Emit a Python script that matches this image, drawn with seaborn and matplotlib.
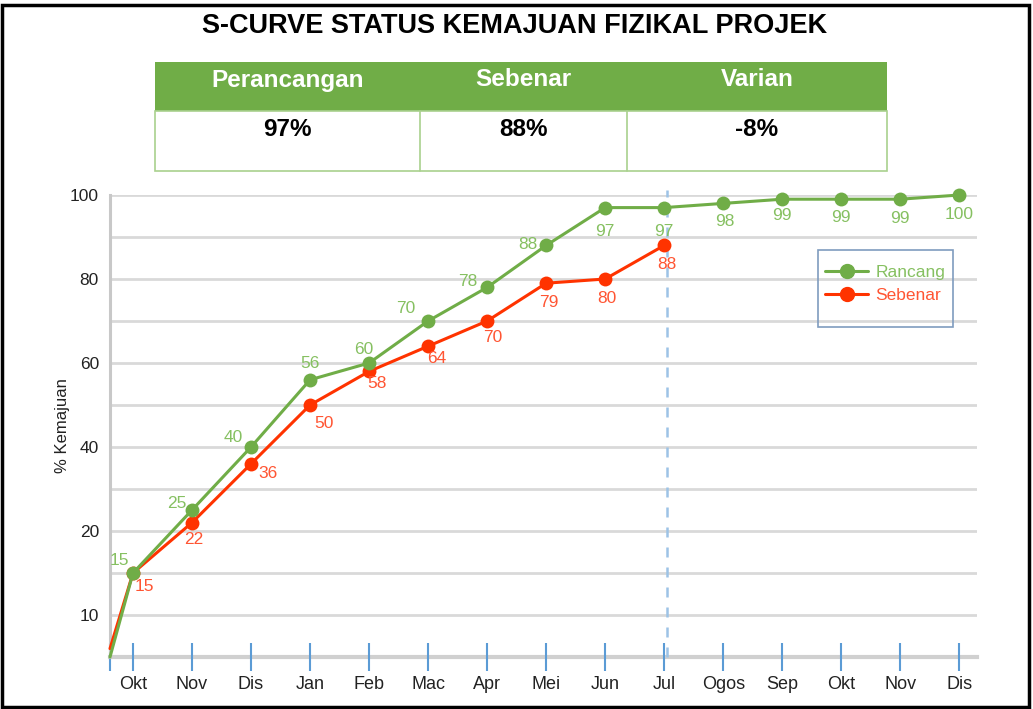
import numpy as np
import pandas as pd
import matplotlib
matplotlib.use("Agg")
import matplotlib.pyplot as plt
from matplotlib.patches import Rectangle
from matplotlib.lines import Line2D
import seaborn as sns

# ---------------- data ----------------
months = ["Okt", "Nov", "Dis", "Jan", "Feb", "Mac", "Apr", "Mei", "Jun", "Jul",
          "Ogos", "Sep", "Okt", "Nov", "Dis"]
rancang = [15, 25, 40, 56, 60, 70, 78, 88, 97, 97, 98, 99, 99, 99, 100]
sebenar = [15, 22, 36, 50, 58, 64, 70, 79, 80, 88]
start_rancang = 5
start_sebenar = 6
summary_headers = ["Perancangan", "Sebenar", "Varian"]
summary_values = ["97%", "88%", "-8%"]
ytick_values = [10, 20, 40, 60, 80, 100]
grid_values = [10, 15, 20, 30, 40, 50, 60, 70, 80, 90, 100]
current_month_index = 9
title = "S-CURVE STATUS KEMAJUAN FIZIKAL PROJEK"

# ---------------- style ----------------
sns.set_theme(style="white")
plt.rcParams["font.family"] = ["Liberation Sans", "DejaVu Sans"]

GREEN = "#70ad47"
GREEN_TXT = "#86c061"
RED = "#ff3300"
RED_TXT = "#ff5533"
BLUE = "#5b9bd5"

# label offsets (points) for each data label
g_off = [(-10, 9), (-11, 5), (-13, 7), (0, 12), (-4, 10), (-16, 9), (-14, 4), (-13, 1),
         (0, -17), (0, -17), (1, -13), (0, -12), (0, -13), (0, -14), (0, -14)]
r_off = [(8, -10), (1, -12), (12, -7), (10, -13), (6, -9), (6, -9), (4, -12), (2, -14),
         (1, -14), (2, -14)]

fig = plt.figure(figsize=(10.33, 7.09), dpi=100)
W, H = 1033, 709

def fx(px):
    return px / W

def fy(py):
    return 1 - py / H

# piecewise y scale: 5 units per grid step below 20, 10 above
def fwd(y):
    y = np.asarray(y, dtype=float)
    return np.where(y <= 20, y / 5.0, 4 + (y - 20) / 10.0)

def inv(u):
    u = np.asarray(u, dtype=float)
    return np.where(u <= 4, u * 5.0, 20 + (u - 4) * 10.0)

ax = fig.add_axes([fx(110), fy(657), fx(977) - fx(110), fy(195) - fy(657)])
ax.set_yscale("function", functions=(fwd, inv))
x_left, x_right = -0.39, 14.3
ax.set_xlim(x_left, x_right)
ax.set_ylim(5, 100)

# grid
for g in grid_values:
    ax.axhline(g, color="#d9d9d9", lw=2.0, zorder=0)

xs = np.arange(len(months))
df_r = pd.DataFrame({"x": np.r_[x_left, xs], "y": np.r_[start_rancang, rancang]})
df_s = pd.DataFrame({"x": np.r_[x_left, xs[:len(sebenar)]], "y": np.r_[start_sebenar, sebenar]})

sns.lineplot(data=df_r, x="x", y="y", ax=ax, color=GREEN, lw=2.2, marker="o",
             markersize=10, markeredgewidth=0, markevery=list(range(1, len(df_r))),
             clip_on=False, zorder=4, sort=False)
sns.lineplot(data=df_s, x="x", y="y", ax=ax, color=RED, lw=2.2, marker="o",
             markersize=10, markeredgewidth=0, markevery=list(range(1, len(df_s))),
             clip_on=False, zorder=3, sort=False)

for i, v in enumerate(rancang):
    ax.annotate(str(v), (xs[i], v), xytext=g_off[i], textcoords="offset points",
                ha="center", va="center", color=GREEN_TXT, fontsize=12.5, zorder=6)
for i, v in enumerate(sebenar):
    ax.annotate(str(v), (xs[i], v), xytext=r_off[i], textcoords="offset points",
                ha="center", va="center", color=RED_TXT, fontsize=12.5, zorder=6)

# current month dashed line
ax.axvline(xs[current_month_index] + 0.05, color="#9dc3e6", lw=1.8, ls=(0, (4, 4)),
           zorder=2, ymin=0, ymax=1.01, clip_on=False)

# axes
for s in ["top", "right"]:
    ax.spines[s].set_visible(False)
ax.spines["left"].set_color("#c8c8c8")
ax.spines["left"].set_linewidth(2.2)
ax.spines["bottom"].set_color("#d0d0d0")
ax.spines["bottom"].set_linewidth(3)
ax.spines["bottom"].set_zorder(0.5)

ax.set_yticks(ytick_values)
ax.set_yticklabels([str(v) for v in ytick_values], fontsize=12.5, color="#222222")
ax.yaxis.set_minor_locator(matplotlib.ticker.NullLocator())
ax.tick_params(axis="y", left=False, length=0, pad=8)

ax.set_xticks(np.r_[x_left, xs])
ax.set_xticklabels([""] + months, fontsize=13, color="#222222")
ax.tick_params(axis="x", bottom=True, direction="inout", length=20, width=1.5,
               color=BLUE, pad=4)
ax.set_xlabel("")
ax.set_ylabel("% Kemajuan", fontsize=12, color="#222222", labelpad=0)

# legend
handles = [Line2D([], [], color=GREEN, lw=2.2, marker="o", markersize=10),
           Line2D([], [], color=RED, lw=2.2, marker="o", markersize=10)]
leg = ax.legend(handles, ["Rancang", "Sebenar"], loc="upper left",
                bbox_to_anchor=((818 - 110) / 867, 1 - (258 - 195) / 462),
                frameon=False, fontsize=12.5, handlelength=2.5, handletextpad=0.4,
                labelspacing=0.45, borderaxespad=0)
for t, c in zip(leg.get_texts(), [GREEN_TXT, RED_TXT]):
    t.set_color(c)
fig.patches.append(Rectangle((fx(818), fy(327)), fx(953) - fx(818), fy(250) - fy(327),
                             transform=fig.transFigure, fill=False, ec="#7f9cbf", lw=1.2))

# title
fig.text(fx(515), fy(26), title, ha="center", va="center", fontsize=19.5,
         fontweight="bold", color="black")

# summary table
cols = [155, 420, 627, 887]
fig.patches.append(Rectangle((fx(155), fy(111)), fx(887) - fx(155), fy(62) - fy(111),
                             transform=fig.transFigure, fc=GREEN, ec="none"))
fig.patches.append(Rectangle((fx(155), fy(171)), fx(887) - fx(155), fy(111) - fy(171),
                             transform=fig.transFigure, fc="white", ec="#a9d18e", lw=1.2))
for c in cols[1:-1]:
    fig.lines.append(Line2D([fx(c), fx(c)], [fy(171), fy(111)], transform=fig.transFigure,
                            color="#a9d18e", lw=1.2))
for i, (h, v) in enumerate(zip(summary_headers, summary_values)):
    cx = (cols[i] + cols[i + 1]) / 2
    fig.text(fx(cx), fy(80), h, ha="center", va="center", fontsize=17.5,
             fontweight="bold", color="white")
    fig.text(fx(cx), fy(129), v, ha="center", va="center", fontsize=17.5,
             fontweight="bold", color="black")

# outer frame
fig.patches.append(Rectangle((0.002, 0.003), 0.994, 0.99, transform=fig.transFigure,
                             fill=False, ec="black", lw=2.5))

fig.savefig("out.png", dpi=100)
